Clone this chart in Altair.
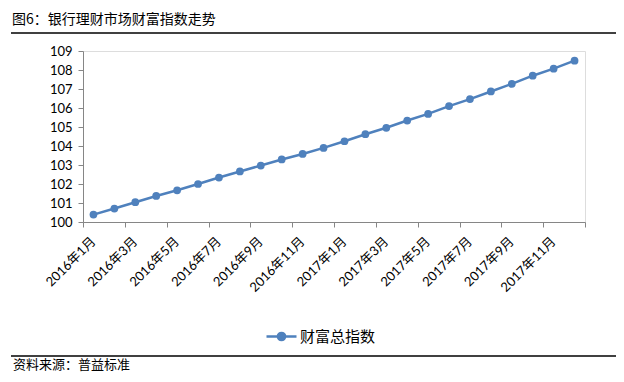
import altair as alt
import pandas as pd
import json

title_text = ["图6：银行理财市场财富指数走势"]
source_text = ["资料来源：普益标准"]
series_name = "财富总指数"
months = ["2016年1月", "2016年2月", "2016年3月", "2016年4月", "2016年5月", "2016年6月",
          "2016年7月", "2016年8月", "2016年9月", "2016年10月", "2016年11月", "2016年12月",
          "2017年1月", "2017年2月", "2017年3月", "2017年4月", "2017年5月", "2017年6月",
          "2017年7月", "2017年8月", "2017年9月", "2017年10月", "2017年11月", "2017年12月"]
values = [100.39, 100.71, 101.04, 101.37, 101.67, 102.00, 102.34, 102.66, 102.97, 103.29,
          103.58, 103.90, 104.25, 104.62, 104.96, 105.34, 105.69, 106.10, 106.47, 106.87,
          107.27, 107.70, 108.07, 108.49]
y_ticks = list(range(100, 110))

BLUE = "#4F81BD"
AXIS_GRAY = "#868686"
CJK = "'Noto Sans CJK SC'"
NUM = "Lato, 'Noto Sans CJK SC'"

df = pd.DataFrame({"idx": list(range(len(months))), "month": months,
                   "value": values, "series": series_name})

n = len(months)
tick_vals = [i - 0.5 for i in range(0, n + 1, 2)]
label_expr = ("datum.value < %d ? %s[datum.value + 0.5] : ''" % (n - 1, json.dumps(months, ensure_ascii=False)))

x_enc = alt.X("idx:Q",
              scale=alt.Scale(domain=[-0.5, n - 0.5], nice=False, zero=False),
              axis=alt.Axis(values=tick_vals, labelExpr=label_expr, labelOffset=10.0,
                            labelAngle=315, labelAlign="right", labelBaseline="middle",
                            labelFont=NUM, labelFontSize=13, labelColor="#000",
                            labelPadding=12, tickSize=5, tickColor=AXIS_GRAY,
                            domainColor=AXIS_GRAY, grid=False, title=None,
                            labelOverlap=False, labelBound=False, labelFlush=False))
y_enc = alt.Y("value:Q",
              scale=alt.Scale(domain=[100, 109], nice=False, zero=False),
              axis=alt.Axis(values=y_ticks, labelFont=NUM, labelFontSize=13, labelColor="#000",
                            tickSize=5, tickColor=AXIS_GRAY, domainColor=AXIS_GRAY,
                            grid=False, title=None, labelPadding=6, labelOverlap=False))

legend_symbol = ("M-1,0H1M-0.24,0A0.24,0.24 0 1,0 0.24,0A0.24,0.24 0 1,0 -0.24,0Z")
color_enc = alt.Color("series:N", scale=alt.Scale(range=[BLUE]),
                      legend=alt.Legend(orient="none", legendX=182, legendY=269, title=None,
                                        symbolType=legend_symbol, symbolSize=900,
                                        symbolStrokeWidth=2.5, symbolFillColor=BLUE,
                                        symbolStrokeColor=BLUE, labelFont=CJK,
                                        labelFontSize=15, labelColor="#000",
                                        labelOffset=2, padding=0))

line = alt.Chart(df).mark_line(strokeWidth=2.5).encode(x=x_enc, y=y_enc, color=color_enc)
pts = alt.Chart(df).mark_circle(size=60, opacity=1).encode(x=x_enc, y=y_enc, color=color_enc)

tdf = pd.DataFrame({"t": title_text})
title = alt.Chart(tdf).mark_text(align="left", baseline="middle", font=CJK, fontSize=14,
                                  color="#000").encode(text="t:N", x=alt.value(-71), y=alt.value(-31))
sdf = pd.DataFrame({"t": source_text})
source = alt.Chart(sdf).mark_text(align="left", baseline="middle", font=CJK, fontSize=13,
                                   color="#000").encode(text="t:N", x=alt.value(-70), y=alt.value(314))
rule_top = alt.Chart(tdf).mark_rule(color="#000", strokeWidth=1.5).encode(
    x=alt.value(-72), x2=alt.value(560), y=alt.value(-18))
rule_bot = alt.Chart(tdf).mark_rule(color="#000", strokeWidth=1.5).encode(
    x=alt.value(-72), x2=alt.value(560), y=alt.value(305))

chart = alt.layer(line, pts, title, source, rule_top, rule_bot).properties(
    width=502, height=171,
    autosize=alt.AutoSizeParams(type="none"),
    padding={"left": 75, "top": 43, "right": 31, "bottom": 152},
).configure_view(stroke=None).configure(background="#ffffff")

chart.save("out.html", embed_options={"renderer": "svg", "actions": False})
